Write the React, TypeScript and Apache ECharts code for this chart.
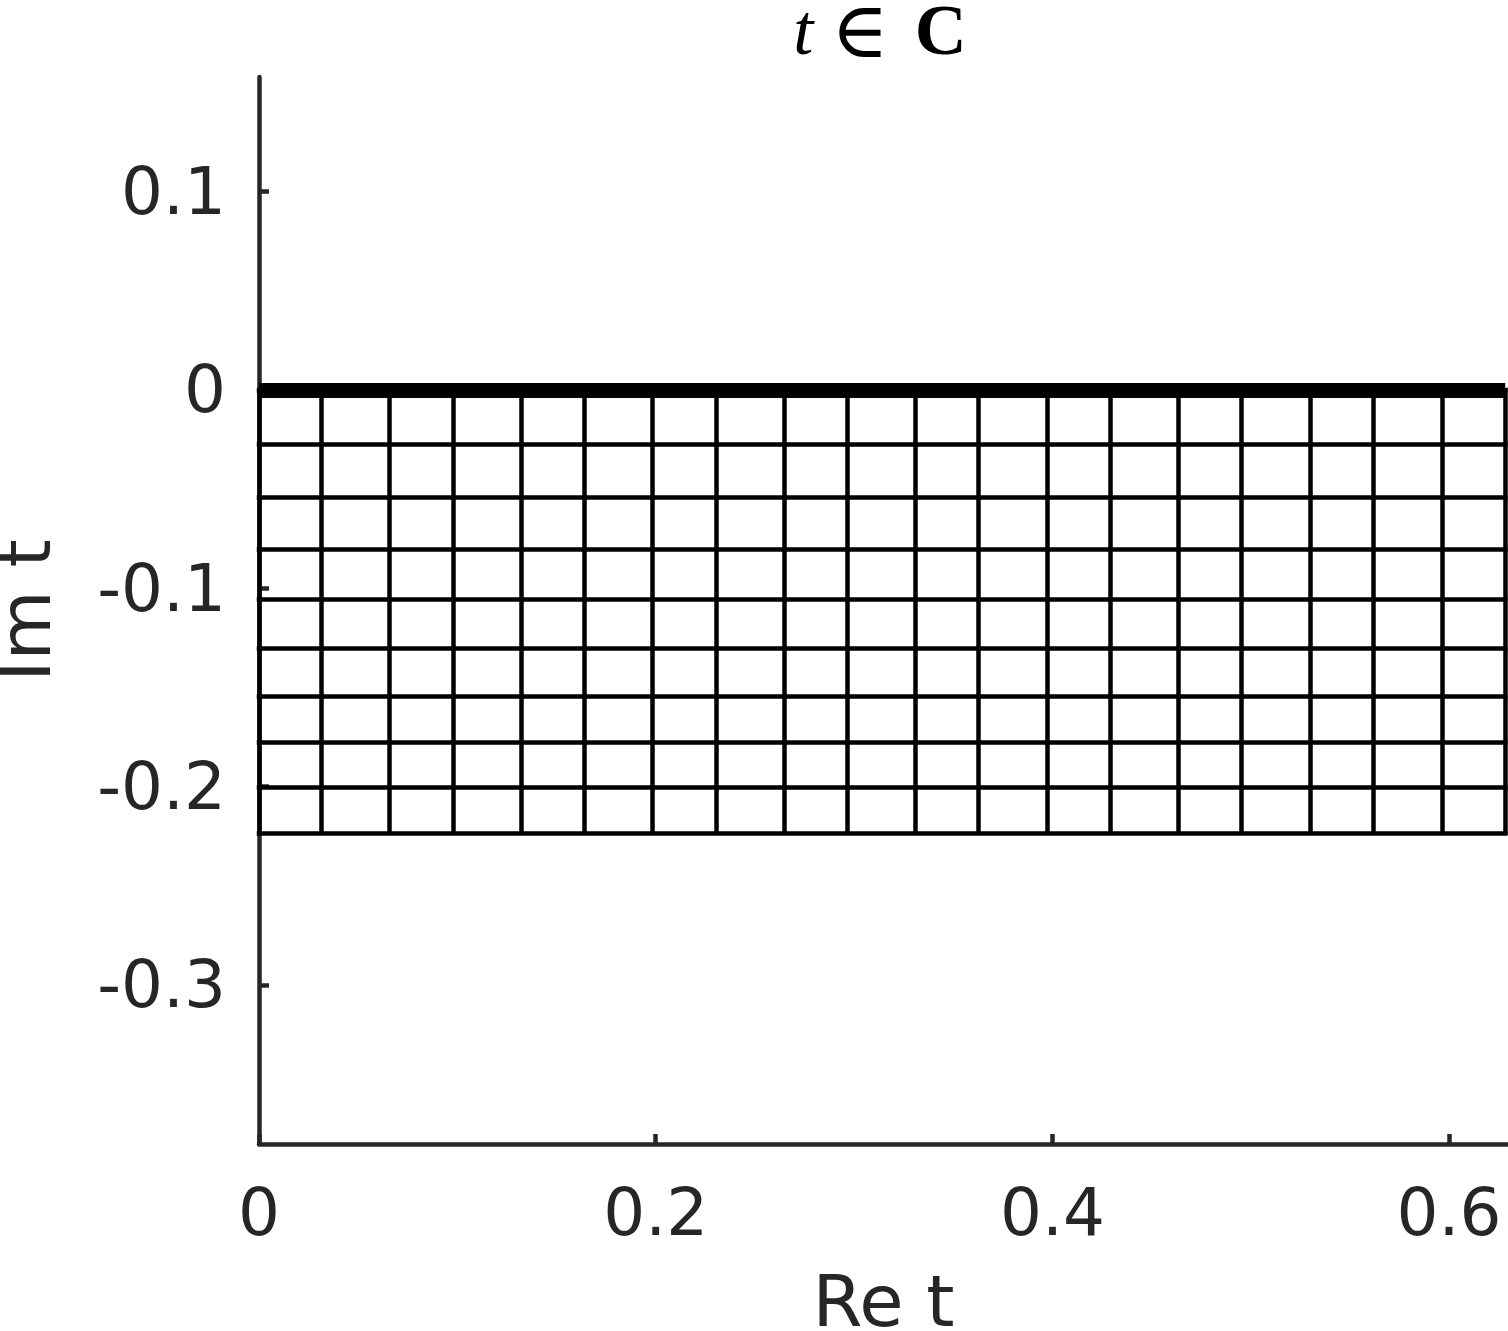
import React, { useEffect, useRef } from "react";
import * as echarts from "echarts";

// Axis ticks
const xTickValues = [0, 0.2, 0.4, 0.6];
const yTickValues = [-0.3, -0.2, -0.1, 0, 0.1];

// Grid lines of the mapped region (Re t = const, Im t = const)
const reLines = [
  0, 0.0313, 0.0659, 0.0977, 0.1323, 0.1639, 0.1985, 0.2303, 0.265, 0.2965,
  0.3311, 0.3628, 0.3976, 0.4291, 0.4637, 0.4954, 0.5301, 0.5616, 0.5963, 0.6283,
];
const imLines = [
  0, -0.0273, -0.0542, -0.0803, -0.1053, -0.13, -0.1542, -0.1776, -0.2004, -0.2233,
];

// Thick boundary line Im t = 0
const realSegment = [0, 0.6283];

const X_MIN = 0;
const X_MAX = 0.6297;
const Y_MIN = -0.3802;
const Y_MAX = 0.1578;

const AXIS_COLOR = "#262626";
const TICK_FONT = "DejaVu Sans";

export default function App() {
  const ref = useRef<HTMLDivElement>(null);

  useEffect(() => {
    if (!ref.current) return;
    const chart = echarts.init(ref.current, undefined, { renderer: "svg" });
    const imBottom = imLines[imLines.length - 1];
    const reRight = reLines[reLines.length - 1];

    const verticalData = reLines.map((x) => ({ coords: [[x, imBottom], [x, 0]] }));
    const horizontalData = imLines.map((y) => ({ coords: [[0, y], [reRight, y]] }));

    const option: any = {
      animation: false,
      backgroundColor: "#ffffff",
      graphic: [
        {
          type: "text",
          x: 880,
          y: 30,
          silent: true,
          style: {
            text: "{i|t}{s| }{n|∈}{s2| }{b|C}",
            align: "center",
            verticalAlign: "middle",
            textAlign: "center",
            textVerticalAlign: "middle",
            fill: "#000",
            rich: {
              i: { fontFamily: "Liberation Serif", fontStyle: "italic", fontWeight: "normal", fontSize: 72, lineHeight: 56, fill: "#000", color: "#000" },
              s: { fontFamily: "Liberation Serif", fontSize: 72, lineHeight: 56, width: 18 },
              s2: { fontFamily: "Liberation Serif", fontSize: 72, lineHeight: 56, width: 26 },
              n: { fontFamily: "DejaVu Serif", fontWeight: "normal", fontSize: 78, lineHeight: 56, fill: "#000", color: "#000" },
              b: { fontFamily: "Liberation Serif", fontWeight: "bold", fontSize: 72, lineHeight: 56, fill: "#000", color: "#000" },
            },
          },
        },
      ],
      grid: {
        left: 259,
        right: 0,
        top: 77,
        bottom: 187,
        containLabel: false,
        outerBoundsMode: "none",
      },
      xAxis: {
        type: "value",
        min: X_MIN,
        max: X_MAX,
        name: "Re t",
        nameLocation: "middle",
        nameGap: 121,
        nameTextStyle: { fontFamily: TICK_FONT, fontSize: 72, color: AXIS_COLOR },
        axisLine: { show: true, onZero: false, lineStyle: { color: AXIS_COLOR, width: 4.5 } },
        axisTick: {
          show: true,
          inside: true,
          length: 10,
          customValues: xTickValues,
          lineStyle: { color: AXIS_COLOR, width: 4.5 },
        },
        axisLabel: {
          show: true,
          customValues: xTickValues,
          margin: 35,
          fontFamily: TICK_FONT,
          fontSize: 66,
          color: AXIS_COLOR,
          formatter: (v: number) => String(v),
        },
        splitLine: { show: false },
      },
      yAxis: {
        type: "value",
        min: Y_MIN,
        max: Y_MAX,
        name: "Im t",
        nameLocation: "middle",
        nameRotate: 90,
        nameGap: 198,
        nameTextStyle: { fontFamily: TICK_FONT, fontSize: 72, color: AXIS_COLOR },
        axisLine: { show: true, onZero: false, lineStyle: { color: AXIS_COLOR, width: 4.5 } },
        axisTick: {
          show: true,
          inside: true,
          length: 10,
          customValues: yTickValues,
          lineStyle: { color: AXIS_COLOR, width: 4.5 },
        },
        axisLabel: {
          show: true,
          customValues: yTickValues,
          margin: 33,
          fontFamily: TICK_FONT,
          fontSize: 66,
          color: AXIS_COLOR,
          formatter: (v: number) => String(v),
        },
        splitLine: { show: false },
      },
      series: [
        {
          type: "lines",
          coordinateSystem: "cartesian2d",
          polyline: false,
          silent: true,
          z: 3,
          lineStyle: { color: "#000000", width: 4.5, opacity: 1, cap: "square" },
          data: verticalData,
        },
        {
          type: "lines",
          coordinateSystem: "cartesian2d",
          polyline: false,
          silent: true,
          z: 3,
          lineStyle: { color: "#000000", width: 4.5, opacity: 1, cap: "square" },
          data: horizontalData,
        },
        {
          type: "lines",
          coordinateSystem: "cartesian2d",
          polyline: false,
          silent: true,
          z: 4,
          lineStyle: { color: "#000000", width: 15, opacity: 1, cap: "butt" },
          data: [{ coords: [[realSegment[0], 0], [realSegment[1], 0]] }],
        },
      ],
    };

    chart.setOption(option);
    return () => chart.dispose();
  }, []);

  return (
    <div
      ref={ref}
      style={{ position: "absolute", left: 0, top: 0, width: 1508, height: 1331, background: "#fff" }}
    />
  );
}
